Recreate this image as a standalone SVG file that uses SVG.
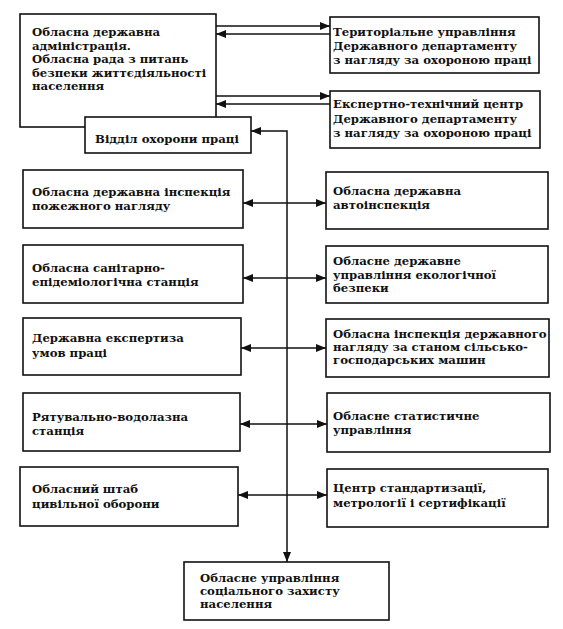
<svg xmlns="http://www.w3.org/2000/svg" width="563" height="629" viewBox="0 0 563 629">
<style>
.box{fill:#fff;stroke:#111;stroke-width:1.6}
.t{font-family:"DejaVu Serif","Liberation Serif",serif;font-size:11.7px;font-weight:bold;fill:#111}
.ln{stroke:#111;stroke-width:1.5;fill:none}
</style>
<defs>
<marker id="ah" viewBox="0 0 10 8" refX="10" refY="4" markerWidth="10" markerHeight="8" markerUnits="userSpaceOnUse" orient="auto-start-reverse">
<path d="M0,0 L10,4 L0,8 Z" fill="#111"/>
</marker>
</defs>
<rect width="563" height="629" fill="#fff"/>
<g id="connectors">
<line class="ln" x1="216" y1="26" x2="330" y2="26" marker-end="url(#ah)"/>
<line class="ln" x1="330" y1="34" x2="216" y2="34" marker-end="url(#ah)"/>
<line class="ln" x1="216" y1="96" x2="330" y2="96" marker-end="url(#ah)"/>
<line class="ln" x1="330" y1="104" x2="216" y2="104" marker-end="url(#ah)"/>
<polyline class="ln" points="251,131 287,131 287,562" marker-start="url(#ah)" marker-end="url(#ah)"/>
<line class="ln" x1="243" y1="203" x2="326" y2="203" marker-start="url(#ah)" marker-end="url(#ah)"/>
<line class="ln" x1="243" y1="278" x2="326" y2="278" marker-start="url(#ah)" marker-end="url(#ah)"/>
<line class="ln" x1="241" y1="348" x2="326" y2="348" marker-start="url(#ah)" marker-end="url(#ah)"/>
<line class="ln" x1="240" y1="424" x2="327" y2="424" marker-start="url(#ah)" marker-end="url(#ah)"/>
<line class="ln" x1="238" y1="495" x2="327" y2="495" marker-start="url(#ah)" marker-end="url(#ah)"/>
</g>
<g id="admin">
<rect class="box" x="20" y="14" width="196" height="113"/>
<text class="t" x="32" y="36">Обласна державна</text>
<text class="t" x="32" y="49.5">адміністрація.</text>
<text class="t" x="32" y="63">Обласна рада з питань</text>
<text class="t" x="32" y="76.5">безпеки життєдіяльності</text>
<text class="t" x="32" y="90">населення</text>
</g>
<g id="viddil">
<rect class="box" x="85" y="117" width="166" height="36"/>
<text class="t" x="95" y="143">Відділ охорони праці</text>
</g>
<g id="terytorialne">
<rect class="box" x="330" y="17" width="209" height="56"/>
<text class="t" x="333" y="36">Територіальне управління</text>
<text class="t" x="333" y="50">Державного департаменту</text>
<text class="t" x="333" y="64">з нагляду за охороною праці</text>
</g>
<g id="ekspertno">
<rect class="box" x="330" y="91" width="210" height="57"/>
<text class="t" x="333" y="108">Експертно-технічний центр</text>
<text class="t" x="333" y="122.5">Державного департаменту</text>
<text class="t" x="333" y="137">з нагляду за охороною праці</text>
</g>
<g id="pozhezhna">
<rect class="box" x="23" y="170" width="220" height="58"/>
<text class="t" x="32" y="196">Обласна державна інспекція</text>
<text class="t" x="32" y="210">пожежного нагляду</text>
</g>
<g id="avtoinspektsiia">
<rect class="box" x="326" y="172" width="222" height="57"/>
<text class="t" x="333" y="195">Обласна державна</text>
<text class="t" x="333" y="209">автоінспекція</text>
</g>
<g id="sanepid">
<rect class="box" x="23" y="245" width="220" height="58"/>
<text class="t" x="32" y="272">Обласна санітарно-</text>
<text class="t" x="32" y="286">епідеміологічна станція</text>
</g>
<g id="ekolohiia">
<rect class="box" x="326" y="246" width="222" height="57"/>
<text class="t" x="333" y="265">Обласне державне</text>
<text class="t" x="333" y="278.5">управління екологічної</text>
<text class="t" x="333" y="292">безпеки</text>
</g>
<g id="ekspertyza">
<rect class="box" x="23" y="318" width="218" height="57"/>
<text class="t" x="32" y="342">Державна експертиза</text>
<text class="t" x="32" y="357">умов праці</text>
</g>
<g id="silhosp">
<rect class="box" x="326" y="319" width="223" height="58"/>
<text class="t" x="333" y="338">Обласна інспекція державного</text>
<text class="t" x="333" y="351">нагляду за станом сільсько-</text>
<text class="t" x="333" y="364">господарських машин</text>
</g>
<g id="ryatuvalna">
<rect class="box" x="23" y="393" width="217" height="58"/>
<text class="t" x="32" y="421">Рятувально-водолазна</text>
<text class="t" x="32" y="435">станція</text>
</g>
<g id="statystyka">
<rect class="box" x="327" y="393" width="223" height="59"/>
<text class="t" x="333" y="420">Обласне статистичне</text>
<text class="t" x="333" y="434">управління</text>
</g>
<g id="shtab">
<rect class="box" x="20" y="467" width="218" height="59"/>
<text class="t" x="32" y="493">Обласний штаб</text>
<text class="t" x="32" y="508">цивільної оборони</text>
</g>
<g id="standart">
<rect class="box" x="327" y="469" width="221" height="58"/>
<text class="t" x="333" y="492">Центр стандартизації,</text>
<text class="t" x="333" y="507">метрології і сертифікації</text>
</g>
<g id="sotszakhyst">
<rect class="box" x="184" y="562" width="205" height="58"/>
<text class="t" x="200" y="582">Обласне управління</text>
<text class="t" x="200" y="595">соціального захисту</text>
<text class="t" x="200" y="608">населення</text>
</g>
</svg>
